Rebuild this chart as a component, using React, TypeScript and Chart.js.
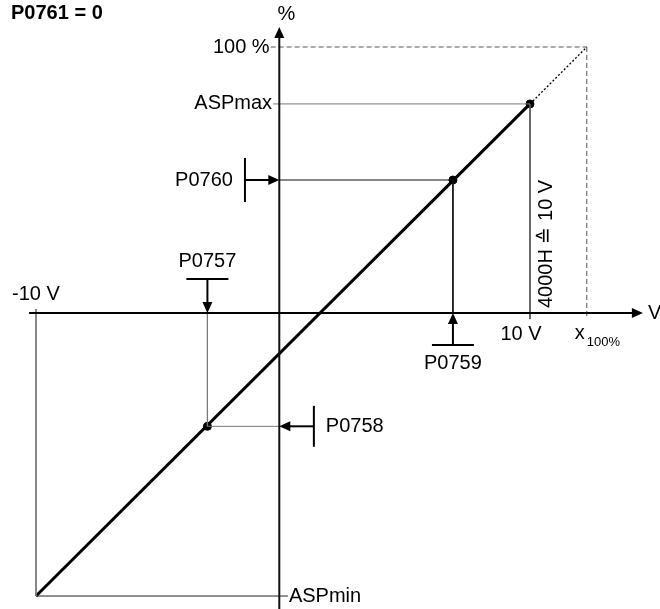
import { useEffect, useRef } from 'react';
import { Chart, registerables } from 'chart.js';
Chart.register(...registerables);

// ---- values (x in volts, y in percent) ----
const V_NEG = -10;          // -10 V
const V_POS = 10;           // 10 V
const V_FULL = 12.3;        // x100%
const ASP_MAX = 78.6;       // %
const ASP_MIN = -106.4;     // %
const FULL = 100;           // 100 %
const P0757 = -3.06;        // V
const P0758 = -42.6;        // %
const P0759 = 6.88;         // V
const P0760 = 50;           // %
const Y_AXIS_V = -0.15;     // where the % axis crosses the V axis
const X_AXIS_SPAN = [-10.28, 14.57];
const Y_AXIS_SPAN = [-118, 107.5];
const X_RANGE = [-11.457, 15.263];
const Y_RANGE = [-111.28, 117.67];

// marker bars (parameter input symbols)
const BAR_P0760_V = -1.54, BAR_P0760_HALF = 8.3;
const BAR_P0757_P = 12.8, BAR_P0757_HALF = 0.85;
const BAR_P0759_P = -12.0, BAR_P0759_HALF = 0.85;
const BAR_P0758_V = 1.25, BAR_P0758_HALF = 7.7;

// characteristic
const charV = [V_NEG, V_POS];
const charPct = [ASP_MIN, ASP_MAX];
const extV = [V_POS, V_FULL];
const extPct = [ASP_MAX, FULL];
const dotV = [V_POS, P0759, P0757];
const dotPct = [ASP_MAX, P0760, P0758];

type Seg = { pts: number[][]; color: string; w: number; dash?: number[] };

const segs: Seg[] = [
  // axes
  { pts: [[X_AXIS_SPAN[0], 0], [X_AXIS_SPAN[1] - 0.2, 0]], color: '#000', w: 2 },
  { pts: [[Y_AXIS_V, Y_AXIS_SPAN[0]], [Y_AXIS_V, Y_AXIS_SPAN[1] - 2]], color: '#111', w: 2 },
  // 100 % frame
  { pts: [[-0.5, FULL], [V_FULL, FULL]], color: '#555', w: 1, dash: [5, 3] },
  { pts: [[V_FULL, FULL], [V_FULL, -2.3]], color: '#555', w: 1, dash: [5, 3] },
  // ASPmax
  { pts: [[-0.4, ASP_MAX], [V_POS, ASP_MAX]], color: '#777', w: 1 },
  { pts: [[V_POS, ASP_MAX], [V_POS, -2.3]], color: '#555', w: 1 },
  // -10 V / ASPmin
  { pts: [[V_NEG, 1.5], [V_NEG, ASP_MIN]], color: '#777', w: 1 },
  { pts: [[V_NEG, ASP_MIN], [0.2, ASP_MIN]], color: '#222', w: 1 },
  // P0759 / P0760
  { pts: [[Y_AXIS_V, P0760], [P0759, P0760]], color: '#111', w: 1 },
  { pts: [[P0759, P0760], [P0759, 0]], color: '#111', w: 1 },
  // P0757 / P0758
  { pts: [[P0757, 0], [P0757, P0758]], color: '#777', w: 1 },
  { pts: [[P0757, P0758], [Y_AXIS_V, P0758]], color: '#777', w: 1 },
  // extension to 100 %
  { pts: extV.map((v, i) => [v, extPct[i]]), color: '#000', w: 1.3, dash: [2, 2] },
  // marker bars
  { pts: [[BAR_P0760_V, P0760 - BAR_P0760_HALF], [BAR_P0760_V, P0760 + BAR_P0760_HALF]], color: '#000', w: 2 },
  { pts: [[BAR_P0760_V, P0760], [Y_AXIS_V - 0.3, P0760]], color: '#000', w: 2 },
  { pts: [[P0757 - BAR_P0757_HALF, BAR_P0757_P], [P0757 + BAR_P0757_HALF, BAR_P0757_P]], color: '#000', w: 2 },
  { pts: [[P0757, BAR_P0757_P], [P0757, 3]], color: '#000', w: 2 },
  { pts: [[P0759 - BAR_P0759_HALF, BAR_P0759_P], [P0759 + BAR_P0759_HALF, BAR_P0759_P]], color: '#000', w: 2 },
  { pts: [[P0759, BAR_P0759_P], [P0759, -3]], color: '#000', w: 2 },
  { pts: [[BAR_P0758_V, P0758 - BAR_P0758_HALF], [BAR_P0758_V, P0758 + BAR_P0758_HALF]], color: '#000', w: 2 },
  { pts: [[BAR_P0758_V, P0758], [Y_AXIS_V + 0.3, P0758]], color: '#000', w: 2 },
  // characteristic
  { pts: charV.map((v, i) => [v, charPct[i]]), color: '#000', w: 3 },
];

// arrowheads: tip position and direction (deg, 0 = right, 90 = down on screen)
const arrows = [
  { v: X_AXIS_SPAN[1], p: 0, dir: 0 },
  { v: Y_AXIS_V, p: Y_AXIS_SPAN[1], dir: -90 },
  { v: Y_AXIS_V, p: P0760, dir: 0 },
  { v: P0757, p: 0, dir: 90 },
  { v: P0759, p: 0, dir: -90 },
  { v: Y_AXIS_V, p: P0758, dir: 180 },
];

const F = "'Liberation Sans', Arial, Helvetica, sans-serif";
type Lbl = { text: string; v: number; p: number; dx: number; dy: number; align: CanvasTextAlign; size: number; bold?: boolean; rot?: number };
const labels: Lbl[] = [
  { text: '%', v: Y_AXIS_V, p: Y_AXIS_SPAN[1], dx: 7, dy: -13, align: 'center', size: 20 },
  { text: '100 %', v: -0.5, p: FULL, dx: -1, dy: 0, align: 'right', size: 20 },
  { text: 'ASPmax', v: -0.4, p: ASP_MAX, dx: -1, dy: 0, align: 'right', size: 20 },
  { text: 'P0760', v: BAR_P0760_V, p: P0760, dx: -12, dy: 0, align: 'right', size: 20 },
  { text: 'P0757', v: P0757, p: BAR_P0757_P, dx: 0, dy: -17, align: 'center', size: 20 },
  { text: '-10 V', v: V_NEG, p: 0, dx: 0, dy: -19, align: 'center', size: 20 },
  { text: '10 V', v: V_POS, p: 0, dx: -9, dy: 21, align: 'center', size: 20 },
  { text: 'V', v: X_AXIS_SPAN[1], p: 0, dx: 5, dy: 0, align: 'left', size: 20 },
  { text: 'P0759', v: P0759, p: BAR_P0759_P, dx: 0, dy: 19, align: 'center', size: 20 },
  { text: 'P0758', v: BAR_P0758_V, p: P0758, dx: 12, dy: 0, align: 'left', size: 20 },
  { text: 'ASPmin', v: 0.2, p: ASP_MIN, dx: 1, dy: 0, align: 'left', size: 20 },
  { text: 'x', v: V_FULL, p: 0, dx: -12, dy: 20, align: 'left', size: 20 },
  { text: '100%', v: V_FULL, p: 0, dx: 0, dy: 29, align: 'left', size: 13 },
  { text: '4000H \u2259 10 V', v: V_POS, p: 0, dx: 16, dy: -5, align: 'left', size: 20, rot: -90 },
];

const overlay = {
  id: 'overlay',
  afterDatasetsDraw(chart: any) {
    const { ctx, scales, chartArea } = chart;
    const px = (v: number) => scales.x.getPixelForValue(v);
    const py = (p: number) => scales.y.getPixelForValue(p);
    ctx.save();
    ctx.fillStyle = '#000';
    for (const a of arrows) {
      const tx = px(a.v), ty = py(a.p);
      const r = (a.dir * Math.PI) / 180;
      const L = 11, W = 5;
      const dx = Math.cos(r), dy = Math.sin(r);
      ctx.beginPath();
      ctx.moveTo(tx, ty);
      ctx.lineTo(tx - L * dx - W * dy, ty - L * dy + W * dx);
      ctx.lineTo(tx - L * dx + W * dy, ty - L * dy - W * dx);
      ctx.closePath();
      ctx.fill();
    }
    ctx.textBaseline = 'middle';
    for (const l of labels) {
      ctx.font = `${l.bold ? 'bold ' : ''}${l.size}px ${F}`;
      ctx.textAlign = l.align;
      const x = px(l.v) + l.dx, y = py(l.p) + l.dy;
      if (l.rot) {
        ctx.save();
        ctx.translate(x, y);
        ctx.rotate((l.rot * Math.PI) / 180);
        ctx.fillText(l.text, 0, 0);
        ctx.restore();
      } else {
        ctx.fillText(l.text, x, y);
      }
    }
    ctx.font = `bold 20px ${F}`;
    ctx.textAlign = 'left';
    ctx.fillText('P0761 = 0', chartArea.left + 11, chartArea.top + 13);
    ctx.restore();
  },
};

export default function App() {
  const ref = useRef<HTMLCanvasElement>(null);
  useEffect(() => {
    const datasets: any[] = segs.map((s) => ({
      type: 'scatter',
      data: s.pts.map(([x, y]) => ({ x, y })),
      showLine: true,
      borderColor: s.color,
      borderWidth: s.w,
      borderDash: s.dash || [],
      pointRadius: 0,
      fill: false,
      tension: 0,
      clip: false,
    }));
    datasets.push({
      type: 'scatter',
      data: dotV.map((v, i) => ({ x: v, y: dotPct[i] })),
      showLine: false,
      pointRadius: 4,
      pointBackgroundColor: '#000',
      pointBorderColor: '#000',
      pointBorderWidth: 1,
      clip: false,
    });
    const chart = new Chart(ref.current!, {
      type: 'scatter',
      data: { datasets },
      options: {
        responsive: false,
        animation: false,
        devicePixelRatio: 1,
        events: [],
        layout: { padding: 0, autoPadding: false },
        plugins: { legend: { display: false }, tooltip: { enabled: false } },
        scales: {
          x: { type: 'linear', min: X_RANGE[0], max: X_RANGE[1], display: false },
          y: { type: 'linear', min: Y_RANGE[0], max: Y_RANGE[1], display: false },
        },
      },
      plugins: [overlay],
    } as any);
    return () => chart.destroy();
  }, []);
  return (
    <div style={{ position: 'absolute', left: 0, top: 0, width: 660, height: 609, background: '#fff' }}>
      <canvas ref={ref} width={660} height={609} style={{ display: 'block' }} />
    </div>
  );
}
